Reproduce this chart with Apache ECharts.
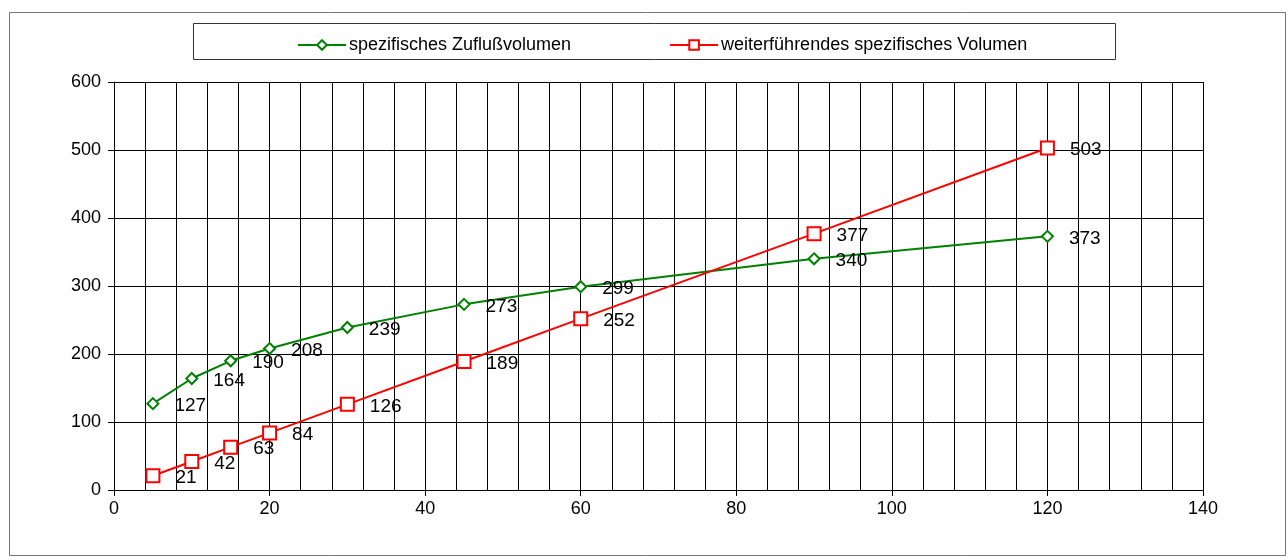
<!DOCTYPE html>
<html><head><meta charset="utf-8">
<script src="https://cdn.jsdelivr.net/npm/echarts@6/dist/echarts.min.js"></script>
<style>html,body{margin:0;padding:0;background:#fff}#c{width:1287px;height:557px}</style>
</head><body><div id="c"></div>
<script>
const xValues = [5, 10, 15, 20, 30, 45, 60, 90, 120];
const zufluss = [127, 164, 190, 208, 239, 273, 299, 340, 373];
const weiter = [21, 42, 63, 84, 126, 189, 252, 377, 503];
const seriesNames = ['spezifisches Zuflußvolumen', 'weiterführendes spezifisches Volumen'];

const font = 'Liberation Sans, Arial, sans-serif';
const chart = echarts.init(document.getElementById('c'), null, {renderer: 'canvas'});
const pairs = (ys) => xValues.map((x, i) => [x, ys[i]]);
const labelCfg = {show: true, position: 'right', distance: 15, offset: [0, 2], color: '#000', fontSize: 19, fontFamily: font};

chart.setOption({
  animation: false,
  backgroundColor: '#fff',
  graphic: [
    {type: 'rect', shape: {x: 9.5, y: 12.5, width: 1276, height: 543}, style: {fill: null, stroke: '#777', lineWidth: 1}, z: -1},
    {type: 'rect', shape: {x: 193.5, y: 23.5, width: 922, height: 36}, style: {fill: null, stroke: '#333', lineWidth: 1}, z: 0}
  ],
  legend: {
    top: 31, left: 292, itemGap: 98, itemWidth: 48, itemHeight: 12,
    textStyle: {fontSize: 18, fontFamily: font, color: '#000', padding: [0, 0, 0, -2]},
    data: seriesNames
  },
  grid: {left: 114, right: 84, top: 82, bottom: 67, containLabel: false},
  xAxis: {
    type: 'value', min: 0, max: 140, interval: 20,
    axisLine: {show: true, onZero: false, lineStyle: {color: '#000', width: 1}},
    axisTick: {show: true, inside: false, length: 6, lineStyle: {color: '#000'}},
    axisLabel: {fontSize: 18, fontFamily: font, color: '#000', margin: 10},
    splitLine: {show: true, lineStyle: {color: '#000', width: 1}},
    minorTick: {show: false, splitNumber: 5},
    minorSplitLine: {show: true, lineStyle: {color: '#000', width: 1}}
  },
  yAxis: {
    type: 'value', min: 0, max: 600, interval: 100,
    axisLine: {show: true, lineStyle: {color: '#000', width: 1}},
    axisTick: {show: true, inside: false, length: 6, lineStyle: {color: '#000'}},
    axisLabel: {fontSize: 18, fontFamily: font, color: '#000', margin: 13},
    splitLine: {show: true, lineStyle: {color: '#000', width: 1}}
  },
  series: [
    {
      name: seriesNames[0], type: 'line', data: pairs(zufluss),
      symbol: 'diamond', symbolSize: 11, showAllSymbol: true,
      lineStyle: {color: '#008000', width: 2},
      itemStyle: {color: '#fff', borderColor: '#008000', borderWidth: 2},
      label: labelCfg, z: 3
    },
    {
      name: seriesNames[1], type: 'line', data: pairs(weiter),
      symbol: 'rect', symbolSize: 13, showAllSymbol: true,
      lineStyle: {color: '#ff0000', width: 2},
      itemStyle: {color: '#fff', borderColor: '#ff0000', borderWidth: 2},
      label: labelCfg, z: 4
    }
  ]
});
</script></body></html>
